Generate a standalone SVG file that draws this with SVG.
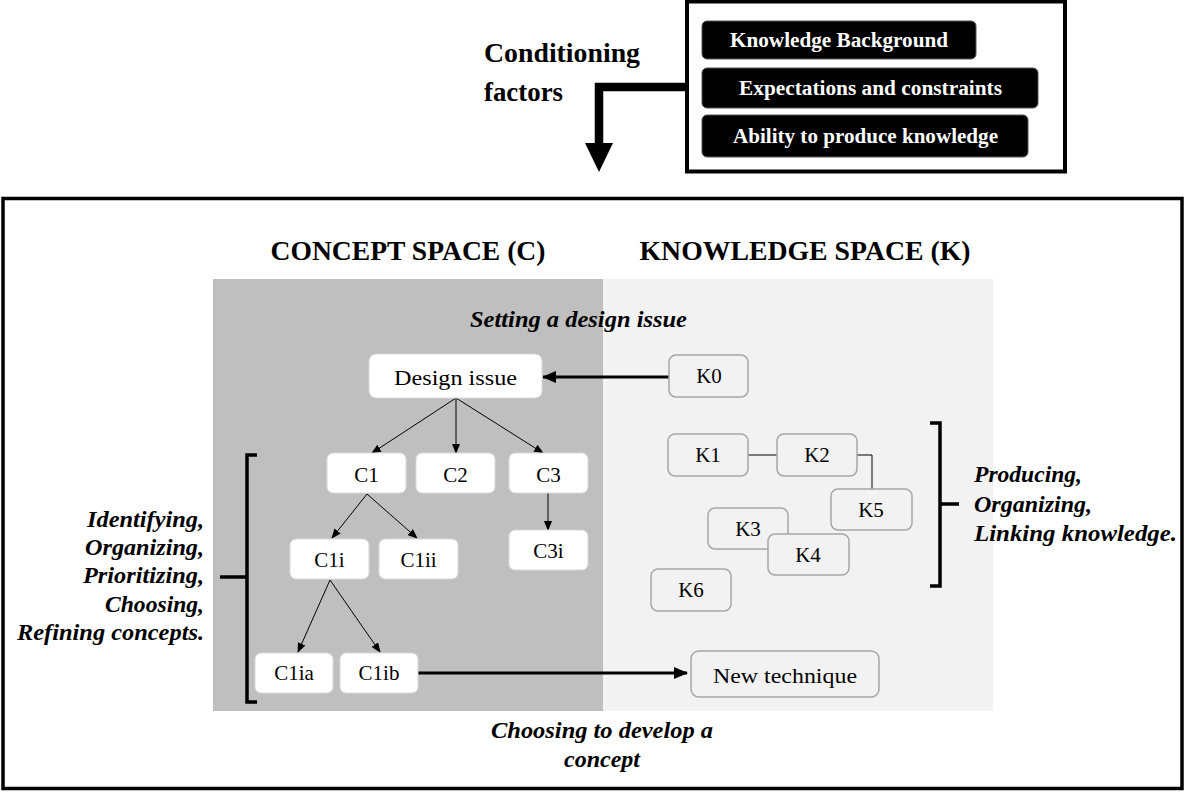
<svg xmlns="http://www.w3.org/2000/svg" width="1187" height="794" viewBox="0 0 1187 794">
<defs>
<marker id="ah" markerWidth="10" markerHeight="8" refX="9" refY="4" orient="auto" markerUnits="userSpaceOnUse">
<path d="M0,0 L10,4 L0,8 Z" fill="#000"/>
</marker>
<marker id="ahb" markerWidth="14" markerHeight="12" refX="13" refY="6" orient="auto" markerUnits="userSpaceOnUse">
<path d="M0,0 L14,6 L0,12 Z" fill="#000"/>
</marker>
</defs>
<style>
.hdr{font-family:"Liberation Serif","Times New Roman",serif;font-weight:bold;font-size:28px;fill:#000;text-anchor:middle}
.bi{font-family:"Liberation Serif","Times New Roman",serif;font-weight:bold;font-style:italic;font-size:24px;fill:#000}
.cond{font-family:"Liberation Serif","Times New Roman",serif;font-weight:bold;font-size:28px;fill:#000}
.pill{fill:#000;stroke:#555;stroke-width:1}
.pilltxt{font-family:"Liberation Serif","Times New Roman",serif;font-weight:bold;font-size:20px;fill:#fff}
.cnode{fill:#fff;stroke:#d9d9d9;stroke-width:1}
.knode{fill:#f2f2f2;stroke:#a6a6a6;stroke-width:1.5}
.lbl{font-family:"Liberation Serif","Times New Roman",serif;font-size:21px;fill:#000;text-anchor:middle}
.thin{stroke:#000;stroke-width:1;fill:none}
.thick{stroke:#000;stroke-width:3;fill:none}
.br{stroke:#000;stroke-width:3.5;fill:none}
</style>
<rect width="1187" height="794" fill="#fff"/>

<g id="factors">
<rect x="687" y="1.5" width="378" height="170" fill="#fff" stroke="#000" stroke-width="4"/>
<rect class="pill" x="702" y="21" width="274" height="38" rx="5"/>
<text class="pilltxt" x="730" y="47" textLength="218" lengthAdjust="spacingAndGlyphs">Knowledge Background</text>
<rect class="pill" x="702" y="68" width="336" height="40" rx="5"/>
<text class="pilltxt" x="739" y="95" textLength="263" lengthAdjust="spacingAndGlyphs">Expectations and constraints</text>
<rect class="pill" x="702" y="115" width="326" height="42" rx="5"/>
<text class="pilltxt" x="733" y="143" textLength="265" lengthAdjust="spacingAndGlyphs">Ability to produce knowledge</text>
</g>

<g id="conditioning">
<text class="cond" x="484" y="62" textLength="156" lengthAdjust="spacingAndGlyphs">Conditioning</text>
<text class="cond" x="484" y="101" textLength="79" lengthAdjust="spacingAndGlyphs">factors</text>
<path d="M687,87 L599,87 L599,145" stroke="#000" stroke-width="8.5" fill="none"/>
<path d="M585,143 L613,143 L599,172 Z" fill="#000"/>
</g>

<g id="main-frame">
<rect x="3" y="198.5" width="1179" height="590" fill="#fff" stroke="#000" stroke-width="3.5"/>
</g>

<g id="concept-space">
<rect x="213" y="279" width="390" height="432" fill="#bfbfbf"/>
<text class="hdr" x="408" y="260" textLength="275" lengthAdjust="spacingAndGlyphs">CONCEPT SPACE (C)</text>
</g>
<g id="knowledge-space">
<rect x="603" y="279" width="390" height="432" fill="#f2f2f2"/>
<text class="hdr" x="805" y="260" textLength="331" lengthAdjust="spacingAndGlyphs">KNOWLEDGE SPACE (K)</text>
</g>

<g id="label-setting">
<text class="bi" x="470" y="327" font-size="23" textLength="217" lengthAdjust="spacingAndGlyphs">Setting a design issue</text>
</g>

<g id="connectors">
<line class="thick" x1="669" y1="377" x2="543" y2="377" marker-end="url(#ahb)"/>
<line class="thin" x1="456" y1="398" x2="372" y2="453" marker-end="url(#ah)"/>
<line class="thin" x1="456" y1="398" x2="456" y2="453" marker-end="url(#ah)"/>
<line class="thin" x1="456" y1="398" x2="543" y2="453" marker-end="url(#ah)"/>
<line class="thin" x1="367" y1="494" x2="332" y2="538" marker-end="url(#ah)"/>
<line class="thin" x1="367" y1="494" x2="417" y2="538" marker-end="url(#ah)"/>
<line class="thin" x1="330" y1="580" x2="298" y2="652" marker-end="url(#ah)"/>
<line class="thin" x1="330" y1="580" x2="380" y2="652" marker-end="url(#ah)"/>
<line class="thin" x1="548" y1="493" x2="548" y2="530" marker-end="url(#ah)"/>
<line class="thick" x1="418" y1="673" x2="687" y2="673" marker-end="url(#ahb)"/>
<line class="thin" x1="748" y1="455" x2="777" y2="455" stroke="#333"/>
<path class="thin" d="M857,455 L872,455 L872,489" stroke="#333"/>
</g>

<g id="design-issue">
<rect class="cnode" x="369" y="354" width="173" height="44" rx="7"/>
<text class="lbl" x="455.5" y="385" font-size="24" textLength="123" lengthAdjust="spacingAndGlyphs">Design issue</text>
</g>
<g id="c1"><rect class="cnode" x="327" y="453" width="79" height="40" rx="6"/><text class="lbl" x="366.5" y="482">C1</text></g>
<g id="c2"><rect class="cnode" x="416" y="453" width="79" height="40" rx="6"/><text class="lbl" x="455.5" y="482">C2</text></g>
<g id="c3"><rect class="cnode" x="509" y="453" width="79" height="40" rx="6"/><text class="lbl" x="548.5" y="482">C3</text></g>
<g id="c3i"><rect class="cnode" x="509" y="530" width="79" height="40" rx="6"/><text class="lbl" x="548.5" y="558">C3i</text></g>
<g id="c1i"><rect class="cnode" x="290" y="539" width="79" height="40" rx="6"/><text class="lbl" x="329.5" y="567">C1i</text></g>
<g id="c1ii"><rect class="cnode" x="379" y="539" width="79" height="40" rx="6"/><text class="lbl" x="418.5" y="567">C1ii</text></g>
<g id="c1ia"><rect class="cnode" x="255" y="653" width="78" height="40" rx="6"/><text class="lbl" x="294" y="680">C1ia</text></g>
<g id="c1ib"><rect class="cnode" x="340" y="653" width="78" height="40" rx="6"/><text class="lbl" x="379" y="680">C1ib</text></g>

<g id="k0"><rect class="knode" x="669" y="355" width="79" height="42" rx="7"/><text class="lbl" x="709" y="383">K0</text></g>
<g id="k1"><rect class="knode" x="668" y="434" width="80" height="42" rx="7"/><text class="lbl" x="708" y="462">K1</text></g>
<g id="k2"><rect class="knode" x="777" y="434" width="80" height="42" rx="7"/><text class="lbl" x="817" y="462">K2</text></g>
<g id="k5"><rect class="knode" x="831" y="489" width="81" height="41" rx="7"/><text class="lbl" x="871" y="517">K5</text></g>
<g id="k3"><rect class="knode" x="708" y="508" width="80" height="41" rx="7"/><text class="lbl" x="748" y="536">K3</text></g>
<g id="k4"><rect class="knode" x="768" y="534" width="81" height="41" rx="7"/><text class="lbl" x="808" y="562">K4</text></g>
<g id="k6"><rect class="knode" x="651" y="569" width="80" height="42" rx="7"/><text class="lbl" x="691" y="597">K6</text></g>
<g id="new-technique"><rect class="knode" x="691" y="651" width="188" height="46" rx="8"/><text class="lbl" x="785" y="683" font-size="24" textLength="144" lengthAdjust="spacingAndGlyphs">New technique</text></g>

<g id="left-bracket">
<path class="br" d="M257,455 L247,455 L247,702 L257,702"/>
<line class="br" x1="220" y1="577" x2="247" y2="577"/>
<text class="bi" x="204" y="527" text-anchor="end" textLength="117" lengthAdjust="spacingAndGlyphs">Identifying,</text>
<text class="bi" x="204" y="555" text-anchor="end" textLength="119" lengthAdjust="spacingAndGlyphs">Organizing,</text>
<text class="bi" x="204" y="583" text-anchor="end" textLength="121" lengthAdjust="spacingAndGlyphs">Prioritizing,</text>
<text class="bi" x="204" y="612" text-anchor="end" textLength="99" lengthAdjust="spacingAndGlyphs">Choosing,</text>
<text class="bi" x="204" y="640" text-anchor="end" textLength="187" lengthAdjust="spacingAndGlyphs">Refining concepts.</text>
</g>

<g id="right-bracket">
<path class="br" d="M930,423 L940,423 L940,586 L930,586"/>
<line class="br" x1="940" y1="504" x2="959" y2="504"/>
<text class="bi" x="974" y="482" textLength="108" lengthAdjust="spacingAndGlyphs">Producing,</text>
<text class="bi" x="974" y="512" textLength="118" lengthAdjust="spacingAndGlyphs">Organizing,</text>
<text class="bi" x="974" y="541" textLength="203" lengthAdjust="spacingAndGlyphs">Linking knowledge.</text>
</g>

<g id="label-choosing">
<text class="bi" x="491" y="738" font-size="23" textLength="222" lengthAdjust="spacingAndGlyphs">Choosing to develop a</text>
<text class="bi" x="602" y="767" font-size="23" text-anchor="middle">concept</text>
</g>
</svg>
